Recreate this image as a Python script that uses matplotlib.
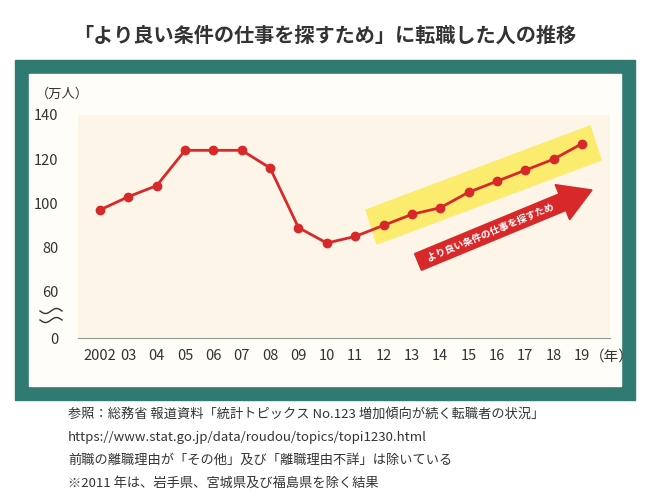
import matplotlib
matplotlib.use("Agg")
import matplotlib.pyplot as plt
import numpy as np
from matplotlib.patches import Rectangle, Polygon

plt.rcParams["font.family"] = "Noto Sans CJK JP"

years = list(range(2002, 2020))
values = [97, 103, 108, 124, 124, 124, 116, 89, 82, 85, 90, 95, 98, 105, 110, 115, 120, 127]
xlabels = ["2002", "03", "04", "05", "06", "07", "08", "09", "10", "11",
           "12", "13", "14", "15", "16", "17", "18", "19"]
yticks_real = [0, 60, 80, 100, 120, 140]
BREAK_OFFSET = 39  # real 0 drawn at this display value (axis break)

def disp(v):
    return BREAK_OFFSET if v == 0 else v

W, H = 650, 500
fig = plt.figure(figsize=(6.5, 5), dpi=100)
fig.patch.set_facecolor("white")

def fr(x, y, w, h):
    return [x / W, 1 - (y + h) / H, w / W, h / H]

bg = fig.add_axes([0, 0, 1, 1]); bg.axis("off"); bg.set_xlim(0, W); bg.set_ylim(H, 0)
bg.add_patch(Rectangle((15, 60), 620, 340, color="#2f7b72"))
bg.add_patch(Rectangle((29, 74), 592, 312, color="#fffdf8"))
bg.text(325, 35, "「より良い条件の仕事を探すため」に転職した人の推移", ha="center", va="center",
        fontsize=14.5, fontweight="bold", color="#333333")
notes = ["参照：総務省 報道資料「統計トピックス No.123 増加傾向が続く転職者の状況」",
         "https://www.stat.go.jp/data/roudou/topics/topi1230.html",
         "前職の離職理由が「その他」及び「離職理由不詳」は除いている",
         "※2011 年は、岩手県、宮城県及び福島県を除く結果"]
for i, t in enumerate(notes):
    bg.text(68, 414 + i * 23, t, ha="left", va="center", fontsize=9.5, color="#333333")
bg.text(36, 94, "（万人）", ha="left", va="center", fontsize=9.5, color="#333333")
xs = np.linspace(40, 62, 40)
for yy in (311, 320):
    bg.plot(xs, yy + 2.5 * np.sin((xs - 40) / 22 * 2 * np.pi), color="#333333", lw=1)

ax = fig.add_axes(fr(78, 115, 532, 223))
ax.set_facecolor("#fdf5e8")
x0, x1 = 2002 - 22 / 28.35, 2019 + 28 / 28.35
ax.set_xlim(x0, x1); ax.set_ylim(BREAK_OFFSET, 140)
for s in ("top", "right", "left"):
    ax.spines[s].set_visible(False)
ax.spines["bottom"].set_color("#999999")

def p2d(px, py):
    return (x0 + (px - 78) / 532 * (x1 - x0), 140 - (py - 115) / 223 * (140 - BREAK_OFFSET))

band = [p2d(366, 210), p2d(590, 126), p2d(601, 160), p2d(377, 244)]
ax.add_patch(Polygon(band, closed=True, color="#fcec6e", zorder=1, clip_on=False))

ang = np.deg2rad(-22.5)
d = np.array([np.cos(ang), np.sin(ang)]); n = np.array([-d[1], d[0]])
start = np.array([418.0, 262.0]); tip = np.array([592.0, 190.0])
L = np.linalg.norm(tip - start); hl = 32; sw = 9; hw = 19
base = start + d * (L - hl)
pts = [start + n * sw, base + n * sw, base + n * hw, tip, base - n * hw, base - n * sw, start - n * sw]
ax.add_patch(Polygon([p2d(*p) for p in pts], closed=True, color="#d7282a", zorder=2, clip_on=False))
mid = start + d * (L - hl) / 2
ax.text(*p2d(*mid), "より良い条件の仕事を探すため", rotation=22.5, rotation_mode="anchor",
        ha="center", va="center", fontsize=7, color="white", fontweight="bold", zorder=3)

ax.plot(years, values, color="#d7282a", lw=2, marker="o", ms=6, zorder=4)
ax.set_xticks(years); ax.set_xticklabels(xlabels, fontsize=10.5, color="#333333")
ax.set_yticks([disp(v) for v in yticks_real])
ax.set_yticklabels([str(v) for v in yticks_real], fontsize=10.5, color="#333333")
ax.tick_params(length=0, pad=8)
ax.tick_params(axis="y", pad=14)
ax.annotate("（年）", xy=(years[-1] + 0.28, 0), xycoords=("data", "axes fraction"),
            xytext=(0, -8), textcoords="offset points", ha="left", va="top",
            fontsize=10.5, color="#333333", annotation_clip=False)

fig.savefig("out.png", dpi=100)
